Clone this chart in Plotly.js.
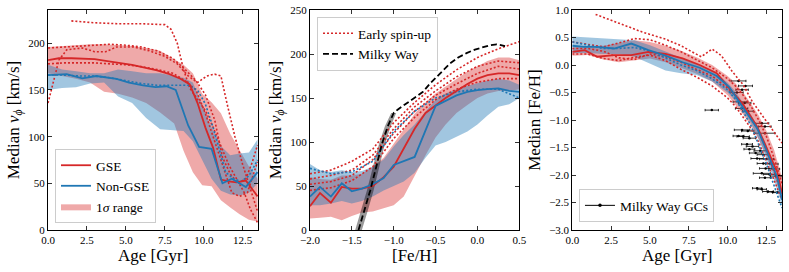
<!DOCTYPE html>
<html><head><meta charset="utf-8">
<script src="https://cdn.plot.ly/plotly-3.0.1.min.js"></script>
<style>html,body{margin:0;padding:0;background:#fff}#c{width:789px;height:272px}</style>
</head><body><div id="c"></div>
<script>
// ---------- Panel 1: median v_phi vs age ----------
const gseAge1 = [0, 0.7, 1.5, 2.3, 3.0, 3.8, 4.6, 5.4, 6.2, 7.0, 7.8, 8.5, 9.1, 9.6, 10.1, 10.6, 11.1, 11.6, 12.1, 12.7, 13.45];
const gseV1   = [182, 184, 184, 183.5, 183, 181, 179, 177, 174, 171, 167, 162, 156, 136, 110, 88, 54, 52, 51, 53, 36];
const nonAge1 = [0, 1.2, 2.2, 3.1, 4.4, 5.2, 6.1, 6.9, 7.6, 8.2, 9.0, 9.7, 10.5, 11.2, 11.8, 12.7, 13.45];
const nonV1   = [166, 167, 162.5, 165, 162, 158, 155, 153, 154, 150, 112, 89, 87, 50, 55, 46, 62];
const bandAge1 = [0, 0.9, 1.8, 2.7, 3.6, 4.5, 5.4, 6.3, 7.2, 8.1, 8.7, 9.3, 9.9, 10.5, 11.1, 11.7, 12.3, 12.9, 13.45];
const gseHi1 = [196, 197, 198, 199, 199, 198, 197, 195, 192, 183, 177, 168, 146, 137, 125, 103, 85, 68, 55];
const gseLo1 = [168, 165, 162, 158, 148, 146, 142, 136, 126, 114, 85, 62, 48, 47, 32, 24, 17, 11, 9];
const nonHi1 = [177, 172, 170, 168, 168, 172, 170, 168, 168, 165, 163, 158, 135, 110, 90, 80, 82, 83, 97];
const nonLo1 = [150, 152, 153, 157, 158, 143, 136, 120, 108, 107, 106, 95, 75, 55, 42, 38, 37, 40, 50];
const spinA1Age = [1.5, 3.0, 4.5, 6.0, 7.5, 7.9, 8.3, 8.7, 9.1, 9.6, 10.1, 10.6, 11.1, 11.6, 12.1, 12.6, 13.0, 13.45];
const spinA1V   = [224, 222, 221, 221, 220, 215, 200, 172, 152, 140, 128, 110, 90, 70, 55, 40, 22, 8];
const spinB1Age = [0, 0.4, 0.7, 1.2, 2.2, 3.0, 3.7, 4.4, 5.5, 6.5, 7.5, 8.3, 9.0, 9.6, 10.2, 10.7, 11.1, 11.5, 12.0, 12.5, 13.0, 13.45];
const spinB1V   = [136, 164, 182, 193, 195, 191, 191, 196, 196, 192, 186, 178, 165, 158, 165, 167, 165, 135, 100, 70, 45, 20];
const spinC1Age = [0, 1, 2, 3, 4, 5, 6, 7, 8, 8.8, 9.5, 10.1, 10.7, 11.2, 11.7, 12.2, 12.7, 13.1, 13.45];
const spinC1V   = [195, 196, 197, 198, 199, 198, 196, 192, 184, 172, 160, 145, 118, 78, 60, 50, 55, 72, 91];
const spinD1Age = [0, 1, 2, 3, 4, 5, 6, 7, 8, 8.8, 9.5, 10.1, 10.7, 11.2, 11.8, 12.3, 12.8, 13.45];
const spinD1V   = [178, 179, 179, 179, 178, 177, 175, 172, 168, 160, 150, 125, 95, 70, 40, 36, 40, 73];
const spinN1Age = [0, 1, 2, 3, 4, 5, 6, 7, 8, 9, 9.6, 10.1, 10.6, 11.0, 11.4, 11.9, 12.4, 12.9, 13.45];
const spinN1V   = [166, 166, 165, 165, 163, 160, 157, 155, 155, 155, 150, 135, 110, 85, 62, 55, 52, 58, 75];

// ---------- Panel 2: median v_phi vs [Fe/H] ----------
const gseFe2 = [-2.0, -1.88, -1.75, -1.62, -1.5, -1.38, -1.25, -1.12, -1.0, -0.88, -0.75, -0.62, -0.5, -0.38, -0.25, -0.12, 0.0, 0.12, 0.25, 0.38, 0.5];
const gseV2  = [27, 42, 31, 49, 47, 47, 50, 60, 72, 92, 115, 133, 142, 150, 158, 166, 172, 176, 178, 178, 176];
const nonFe2 = [-2.0, -1.88, -1.75, -1.62, -1.5, -1.38, -1.25, -1.12, -1.0, -0.75, -0.5, -0.38, -0.25, -0.12, 0.0, 0.12, 0.25, 0.38, 0.5];
const nonV2  = [38, 49, 38, 53, 44, 47, 52, 59, 74, 83, 141, 147, 153, 157, 159, 160, 161, 158, 157];
const bandFe2 = [-2.0, -1.88, -1.75, -1.62, -1.5, -1.38, -1.25, -1.12, -1.0, -0.88, -0.75, -0.62, -0.5, -0.38, -0.25, -0.12, 0.0, 0.12, 0.25, 0.38, 0.5];
const gseHi2 = [60, 58, 57, 62, 62, 64, 72, 82, 98, 115, 132, 145, 155, 163, 172, 180, 186, 192, 196, 196, 193];
const gseLo2 = [13, 14, 15, 11, 16, 20, 21, 25, 28, 38, 62, 85, 105, 120, 133, 142, 150, 155, 158, 158, 160];
const nonHi2 = [75, 68, 66, 68, 66, 67, 72, 80, 95, 108, 120, 135, 148, 155, 160, 164, 167, 170, 172, 170, 165];
const nonLo2 = [28, 28, 30, 33, 30, 33, 38, 45, 50, 55, 65, 82, 96, 100, 106, 112, 120, 130, 140, 143, 150];
const spinFe2 = [-2.0, -1.75, -1.5, -1.25, -1.0, -0.75, -0.5, -0.25, 0.0, 0.25, 0.5];
const spinA2V = [64, 68, 78, 92, 122, 145, 165, 182, 196, 206, 214];
const spinB2V = [58, 62, 68, 85, 115, 140, 158, 174, 186, 192, 190];
const spinC2V = [52, 55, 62, 80, 110, 135, 153, 166, 178, 186, 183];
const spinD2V = [45, 48, 56, 72, 104, 128, 148, 160, 168, 172, 172];
const spinN2V = [70, 64, 66, 78, 112, 135, 150, 157, 160, 160, 150];
const mwFe = [-1.42, -1.35, -1.28, -1.2, -1.14, -1.07, -1.0, -0.95, -0.89, -0.8, -0.73, -0.65, -0.57, -0.49, -0.41, -0.33, -0.23, -0.13, -0.03, 0.07, 0.15, 0.23, 0.33];
const mwV  = [0, 22, 45, 75, 98, 118, 133, 137, 141, 147, 152, 157, 166, 174, 182, 189, 196, 201, 205, 208, 210, 211, 209];
const mwBandV    = [0, 22, 45, 75, 98, 118, 133];
const mwBandFeLo = [-1.46, -1.39, -1.32, -1.24, -1.175, -1.105, -1.03];
const mwBandFeHi = [-1.38, -1.31, -1.24, -1.16, -1.105, -1.035, -0.97];

// ---------- Panel 3: median [Fe/H] vs age ----------
const medAge3 = [0, 0.8, 1.6, 2.7, 3.8, 4.9, 6.0, 7.1, 8.2, 9.3, 10.1, 11.0, 11.9, 12.5, 13.2, 13.5];
const gseFe3  = [0.24, 0.27, 0.15, 0.18, 0.18, 0.24, 0.2, 0.12, 0.0, -0.15, -0.42, -0.72, -1.12, -1.5, -1.95, -2.33];
const nonFe3  = [0.35, 0.33, 0.33, 0.3, 0.39, 0.27, 0.17, 0.05, -0.05, -0.2, -0.4, -0.78, -1.15, -1.55, -2.05, -2.45];
const bandAge3 = [0, 1, 2, 3, 4, 5, 6, 7, 8, 9, 10, 10.5, 11, 11.5, 12, 12.5, 13, 13.5];
const gseHi3 = [0.32, 0.35, 0.35, 0.40, 0.45, 0.42, 0.35, 0.26, 0.14, 0.0, -0.2, -0.33, -0.5, -0.7, -0.92, -1.2, -1.55, -2.05];
const gseLo3 = [0.17, 0.18, 0.10, 0.05, 0.08, 0.12, 0.05, -0.05, -0.16, -0.3, -0.55, -0.72, -0.9, -1.1, -1.35, -1.65, -2.0, -2.45];
const nonHi3 = [0.52, 0.50, 0.48, 0.46, 0.45, 0.36, 0.25, 0.14, 0.02, -0.1, -0.32, -0.48, -0.68, -0.9, -1.15, -1.45, -1.85, -2.3];
const nonLo3 = [0.22, 0.22, 0.2, 0.2, 0.15, 0.02, -0.1, -0.15, -0.18, -0.3, -0.5, -0.65, -0.85, -1.05, -1.35, -1.7, -2.1, -2.55];
const spinA3Age = [1.5, 3.0, 4.5, 6.0, 7.0, 7.7, 8.3, 9.0, 9.6, 10.3, 11.0, 11.6, 12.5, 13.1, 13.5];
const spinA3Fe  = [0.92, 0.76, 0.6, 0.47, 0.35, 0.24, 0.15, 0.29, 0.17, -0.12, -0.36, -0.67, -1.03, -1.27, -1.42];
const spinB3Fe = [0.42, 0.37, 0.33, 0.4, 0.48, 0.46, 0.36, 0.24, 0.1, -0.05, -0.25, -0.38, -0.55, -0.75, -1.0, -1.3, -1.7, -2.15];
const spinC3Fe = [0.3, 0.3, 0.25, 0.13, 0.1, 0.2, 0.15, 0.05, -0.08, -0.2, -0.42, -0.55, -0.72, -0.95, -1.2, -1.55, -1.95, -2.35];
const spinD3Fe = [0.2, 0.2, 0.12, 0.08, 0.14, 0.18, 0.08, -0.08, -0.22, -0.38, -0.6, -0.75, -0.95, -1.15, -1.4, -1.75, -2.1, -2.45];
const spinN3Fe = [0.42, 0.36, 0.3, 0.3, 0.32, 0.25, 0.12, 0.0, -0.1, -0.25, -0.45, -0.62, -0.85, -1.1, -1.45, -1.8, -2.2, -2.6];
const gcAge = [10.7, 11.15, 10.93, 10.6, 10.8, 11.1, 8.98, 10.9, 11.3, 12.2, 12.4, 10.93, 11.3, 10.7, 11.0, 11.4, 12.4, 11.25, 11.6, 11.4, 12.1, 11.8, 12.3, 11.9, 12.5, 12.3, 12.85, 12.45, 13.0, 12.2, 12.7, 12.4, 13.1, 11.9, 12.2, 12.6, 12.9, 13.2];
const gcFe  = [-0.29, -0.38, -0.45, -0.5, -0.67, -0.69, -0.82, -0.79, -0.84, -1.06, -1.12, -1.18, -1.2, -1.29, -1.3, -1.33, -1.24, -1.44, -1.48, -1.53, -1.56, -1.6, -1.63, -1.7, -1.71, -1.79, -1.8, -1.88, -1.89, -1.97, -1.99, -2.05, -2.02, -2.24, -2.26, -2.3, -2.31, -2.32];
const gcErr = [0.48, 0.45, 0.4, 0.4, 0.45, 0.4, 0.43, 0.4, 0.35, 0.45, 0.4, 0.5, 0.4, 0.35, 0.4, 0.4, 0.65, 0.35, 0.4, 0.35, 0.4, 0.4, 0.4, 0.4, 0.45, 0.4, 0.4, 0.4, 0.35, 0.55, 0.4, 0.35, 0.35, 0.3, 0.3, 0.35, 0.35, 0.3];

// ---------- styling ----------
const RED = '#d62728', BLUE = '#1f77b4';
const RED_F = 'rgba(214,39,40,0.4)', BLUE_F = 'rgba(31,119,180,0.42)';
const FONT = "'Liberation Serif', 'Times New Roman', Times, serif";
const DOT = '2px,2px';

function poly(x, hi, lo) {
  return {x: x.concat(x.slice().reverse()), y: hi.concat(lo.slice().reverse())};
}
function bandTrace(x, hi, lo, color, ax, extra) {
  const p = poly(x, hi, lo);
  return Object.assign({x: p.x, y: p.y, xaxis: 'x' + ax, yaxis: 'y' + ax, mode: 'lines', fill: 'toself',
    fillcolor: color, line: {width: 0, color: color}, hoverinfo: 'skip', showlegend: false}, extra || {});
}
function lineTrace(x, y, color, ax, dash, width, extra) {
  return Object.assign({x: x, y: y, xaxis: 'x' + ax, yaxis: 'y' + ax, mode: 'lines',
    line: {color: color, width: width, dash: dash}, showlegend: false}, extra || {});
}

const data = [];
// Panel 1
data.push(bandTrace(bandAge1, gseHi1, gseLo1, RED_F, '', {name: '1<i>σ</i> range', showlegend: true, legend: 'legend', legendrank: 3}));
data.push(bandTrace(bandAge1, nonHi1, nonLo1, BLUE_F, ''));
[[spinA1Age, spinA1V], [spinB1Age, spinB1V], [spinC1Age, spinC1V], [spinD1Age, spinD1V]].forEach(s =>
  data.push(lineTrace(s[0], s[1], RED, '', DOT, 1.6)));
data.push(lineTrace(spinN1Age, spinN1V, BLUE, '', DOT, 1.6));
data.push(lineTrace(gseAge1, gseV1, RED, '', 'solid', 1.8, {name: 'GSE', showlegend: true, legend: 'legend', legendrank: 1}));
data.push(lineTrace(nonAge1, nonV1, BLUE, '', 'solid', 1.8, {name: 'Non-GSE', showlegend: true, legend: 'legend', legendrank: 2}));
// Panel 2
data.push(bandTrace(bandFe2, gseHi2, gseLo2, RED_F, '2'));
data.push(bandTrace(bandFe2, nonHi2, nonLo2, BLUE_F, '2'));
(function(){
  const p = {x: mwBandFeLo.concat(mwBandFeHi.slice().reverse()), y: mwBandV.concat(mwBandV.slice().reverse())};
  data.push({x: p.x, y: p.y, xaxis: 'x2', yaxis: 'y2', mode: 'lines', fill: 'toself',
    fillcolor: 'rgba(0,0,0,0.4)', line: {width: 0}, showlegend: false, hoverinfo: 'skip'});
})();
[spinA2V, spinB2V, spinC2V, spinD2V].forEach((v, i) =>
  data.push(lineTrace(spinFe2, v, RED, '2', DOT, 1.6, i === 0 ? {name: 'Early spin-up', showlegend: true, legend: 'legend2', legendrank: 1} : {})));
data.push(lineTrace(spinFe2, spinN2V, BLUE, '2', DOT, 1.6));
data.push(lineTrace(gseFe2, gseV2, RED, '2', 'solid', 1.8));
data.push(lineTrace(nonFe2, nonV2, BLUE, '2', 'solid', 1.8));
data.push(lineTrace(mwFe, mwV, '#000', '2', '6px,3px', 1.8, {name: 'Milky Way', showlegend: true, legend: 'legend2', legendrank: 2}));
// Panel 3
data.push({x: gcAge, y: gcFe, xaxis: 'x3', yaxis: 'y3', mode: 'markers', name: 'Milky Way GCs',
  marker: {color: '#000', size: 2.5}, error_x: {type: 'data', array: gcErr, visible: true, color: '#000', thickness: 0.8, width: 1.2},
  showlegend: false});
// legend-only entry: errorbar-like glyph (line with a dot)
data.push({x: [null], y: [null], xaxis: 'x3', yaxis: 'y3', mode: 'lines+markers', name: 'Milky Way GCs',
  line: {color: '#000', width: 1}, marker: {color: '#000', size: 3.5}, showlegend: true, legend: 'legend3'});
data.push(bandTrace(bandAge3, gseHi3, gseLo3, RED_F, '3'));
data.push(bandTrace(bandAge3, nonHi3, nonLo3, BLUE_F, '3'));
data.push(lineTrace(spinA3Age, spinA3Fe, RED, '3', DOT, 1.6));
[spinB3Fe, spinC3Fe, spinD3Fe].forEach(v => data.push(lineTrace(bandAge3, v, RED, '3', DOT, 1.6)));
data.push(lineTrace(bandAge3, spinN3Fe, BLUE, '3', DOT, 1.6));
data.push(lineTrace(medAge3, gseFe3, RED, '3', 'solid', 1.8));
data.push(lineTrace(medAge3, nonFe3, BLUE, '3', 'solid', 1.8));

function axis(extra) {
  return Object.assign({showline: true, mirror: 'ticks', linecolor: '#000', linewidth: 1,
    ticks: 'inside', ticklen: 4, tickwidth: 0.8, tickcolor: '#000', showgrid: false, zeroline: false,
    tickfont: {family: FONT, size: 11, color: '#000'}, automargin: false}, extra);
}
const TF = {family: FONT, size: 17, color: '#000'};
const legendBase = {font: {family: FONT, size: 13.5, color: '#000'}, bgcolor: 'rgba(255,255,255,0.8)',
  bordercolor: '#cccccc', borderwidth: 1, xref: 'paper', yref: 'paper', tracegroupgap: 0, itemwidth: 30};

const layout = {
  width: 789, height: 272, margin: {l: 48, r: 7, t: 10, b: 42},
  paper_bgcolor: '#fff', plot_bgcolor: '#fff', font: {family: FONT, color: '#000'},
  xaxis:  axis({domain: [0, 0.2865], range: [0, 13.5], dtick: 2.5, tickformat: '.1f', anchor: 'y', title: {text: 'Age [Gyr]', font: TF, standoff: 2}}),
  yaxis:  axis({domain: [0, 1], range: [0, 235.7], dtick: 50, anchor: 'x', title: {text: 'Median <i>v</i><sub><i>ϕ</i></sub> [km/s]', font: TF, standoff: 4}}),
  xaxis2: axis({domain: [0.3569, 0.6421], range: [-2, 0.5], dtick: 0.5, tickformat: '.1f', anchor: 'y2', title: {text: '[Fe/H]', font: TF, standoff: 2}}),
  yaxis2: axis({domain: [0, 1], range: [0, 250], dtick: 50, anchor: 'x2', title: {text: 'Median <i>v</i><sub><i>ϕ</i></sub> [km/s]', font: TF, standoff: 4}}),
  xaxis3: axis({domain: [0.7143, 1], range: [0, 13.5], dtick: 2.5, tickformat: '.1f', anchor: 'y3', title: {text: 'Age [Gyr]', font: TF, standoff: 2}}),
  yaxis3: axis({domain: [0, 1], range: [-3, 1], dtick: 0.5, tickformat: '.1f', anchor: 'x3', title: {text: 'Median [Fe/H]', font: TF, standoff: 4}}),
  legend:  Object.assign({}, legendBase, {x: 0.0095, y: 0.032, xanchor: 'left', yanchor: 'bottom'}),
  legend2: Object.assign({}, legendBase, {x: 0.3665, y: 0.968, xanchor: 'left', yanchor: 'top'}),
  legend3: Object.assign({}, legendBase, {x: 0.7234, y: 0.036, xanchor: 'left', yanchor: 'bottom'}),
  showlegend: true
};
Plotly.newPlot('c', data, layout, {staticPlot: true, displayModeBar: false});
</script>
</body></html>
